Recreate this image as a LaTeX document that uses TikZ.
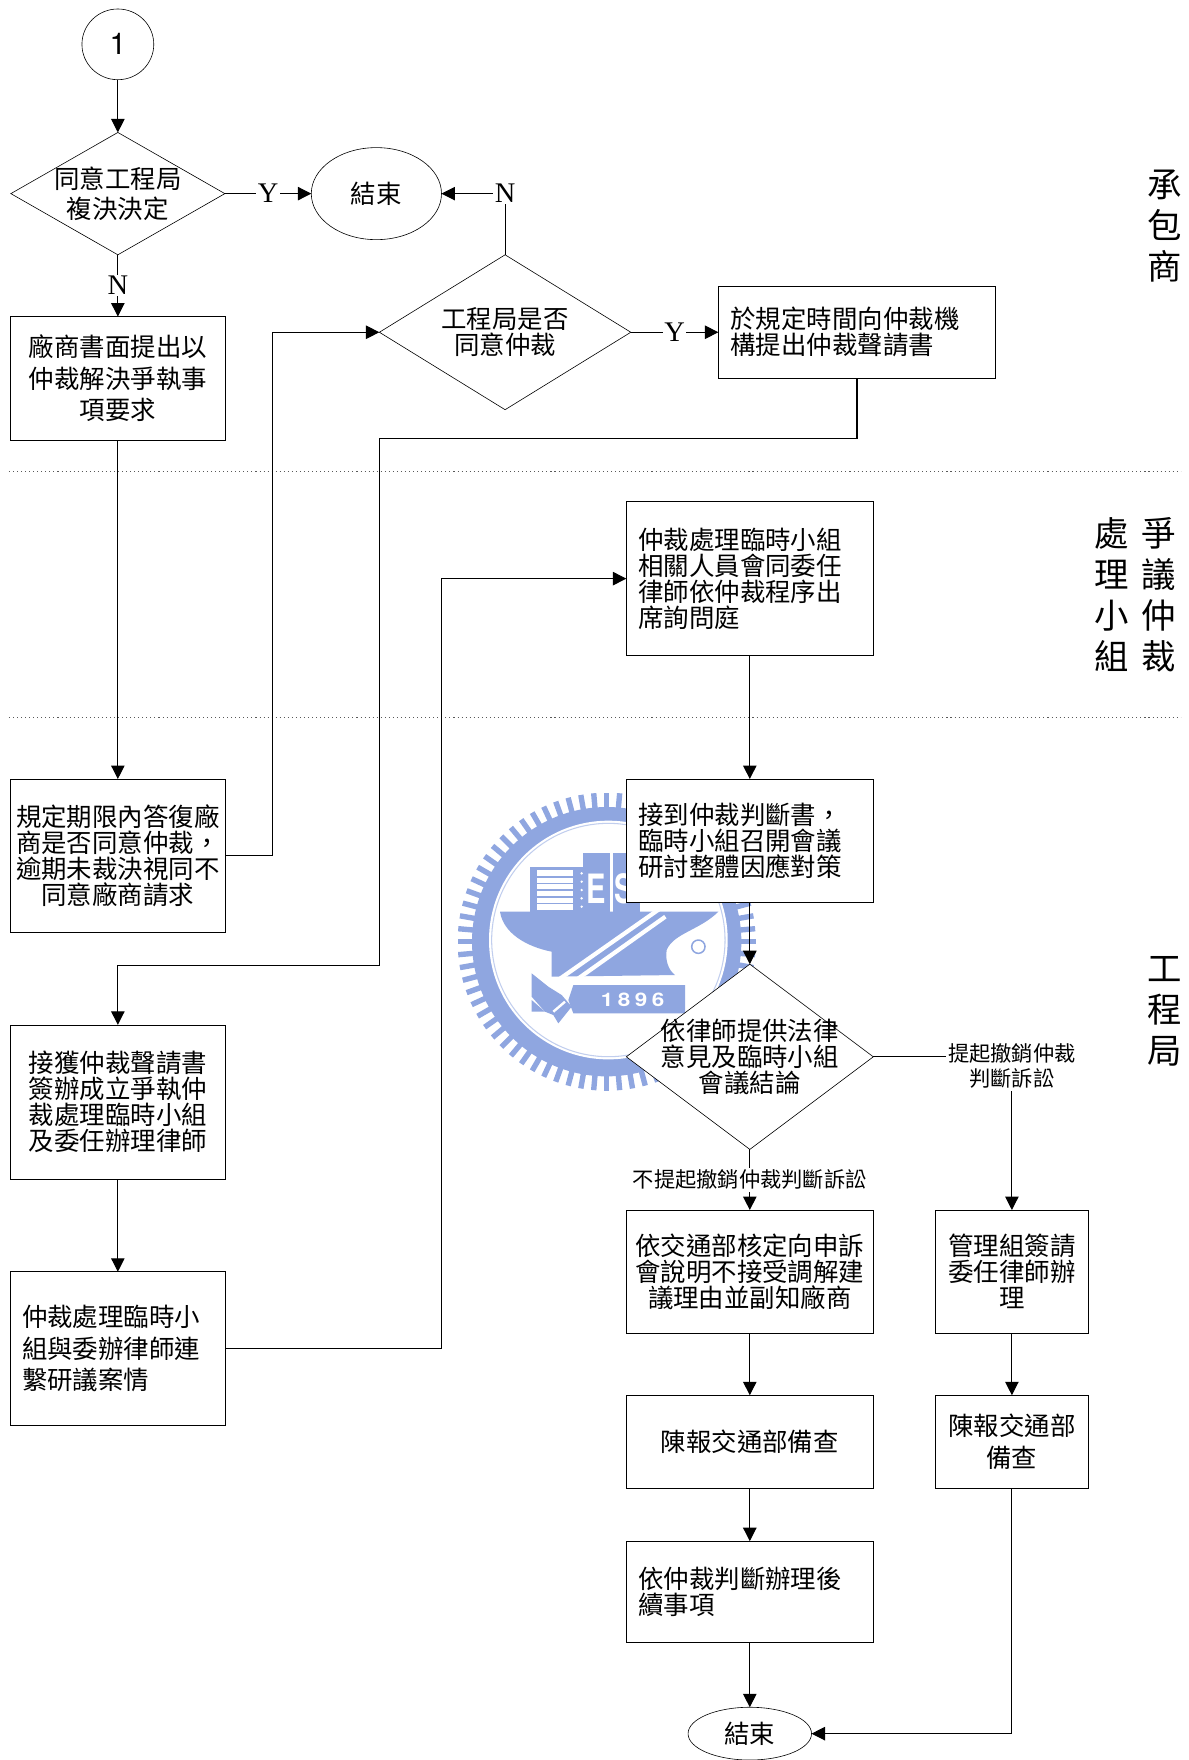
\documentclass[tikz,border=0pt]{standalone}
\usepackage{fontspec}
\setmainfont{Liberation Serif}
\newfontfamily\arialfont{TeX Gyre Heros}
\newfontfamily\cjk{Noto Sans CJK TC}
\usepackage{xcolor}
\usepackage{tikz}
\usetikzlibrary{arrows.meta,positioning,shapes.geometric}

\definecolor{logoblue}{HTML}{8FA6E0}
\newcommand{\bodycn}{\cjk\fontsize{17pt}{17.4pt}\selectfont}
\newcommand{\loosecn}{\cjk\fontsize{17pt}{21.2pt}\selectfont}
\newcommand{\notecn}{\cjk\fontsize{14.2pt}{17pt}\selectfont}
\newcommand{\sidecn}{\cjk\fontsize{23pt}{27.4pt}\selectfont}

\begin{document}
\begin{tikzpicture}[
  x=0.75pt, y=-0.75pt,
  box/.style={rectangle, draw, fill=white, minimum width=143.25pt, minimum height=82.5pt,
              inner sep=0pt, outer sep=0pt, align=center, font=\bodycn},
  boxl/.style={box, align=left, text width=#1, inner xsep=8pt},
  decision/.style={diamond, draw, fill=white, inner sep=-30pt, outer sep=0pt, aspect=1.6,
                   align=center, font=\bodycn},
  terminal/.style={ellipse, draw, fill=white, inner sep=0pt, outer sep=0pt, font=\bodycn},
  flow/.style={-{Triangle[length=9pt,width=9pt]}, line width=0.7pt},
  yesno/.style={fill=white, inner sep=1pt, font=\fontsize{19pt}{20pt}\selectfont},
  branch/.style={fill=white, inner sep=1.5pt, align=center, font=\notecn},
  side/.style={align=center, inner sep=0pt, font=\sidecn},
  zone/.style={dotted, line width=0.7pt, black!65},
  logotext/.style={white, inner sep=0pt, font=\arialfont\bfseries\fontsize{27pt}{27pt}\selectfont, xscale=0.72},
]
  \useasboundingbox (0,0) rectangle (1059,1568);

  % Watermark
  \begin{scope}[shift={(392,686)}, scale=0.297]
    \begin{scope}[shift={(500,515)}]
      \foreach \a in {0,5,...,355}
        \draw[logoblue, line width=3.6pt] (\a:395) -- (\a:447);
      \fill[logoblue] (0,0) circle (404);
    \end{scope}
    \fill[white] (505,510) circle (358);
    \draw[logoblue!55, line width=0.7pt] (505,510) circle (350);
    \fill[logoblue] (180,425) -- (835,425) .. controls (780,480) and (700,490) .. (680,540)
      .. controls (675,570) and (685,600) .. (705,615) -- (335,620) -- (335,545)
      .. controls (260,530) and (190,490) .. (180,425) -- cycle;
    \fill[logoblue] (430,250) rectangle (510,430);
    \fill[logoblue] (520,250) rectangle (600,430);
    \fill[logoblue] (270,290) rectangle (430,430);
    \fill[white] (292,300) rectangle (398,420);
    \foreach \y in {320,340,360,380,400}
      \draw[logoblue, line width=1.1pt] (292,\y) -- (398,\y);
    \foreach \y in {310,335,360,385,410}
      \fill[white] (425,\y) circle (4);
    \node[logotext] (logoe) at (470,355) {E};
    \node[logotext] (logos) at (552,355) {S};
    \draw[white, line width=2.8pt] (340,640) -- (661,415);
    \draw[white, line width=2.8pt] (380,650) -- (676,440);
    \fill[logoblue] (275,610) -- (325,650) -- (365,675) -- (395,710) -- (355,760) -- (340,735)
      -- (315,725) -- (275,680) -- cycle;
    \fill[logoblue] (275,690) -- (315,725) -- (275,725) -- cycle;
    \draw[white, line width=1.6pt] (340,725) -- (375,695);
    \fill[logoblue] (400,645) -- (735,645) -- (735,730) -- (400,730) -- (385,690) -- cycle;
    \node[white, inner sep=0pt, font=\arialfont\bfseries\fontsize{12.5pt}{13pt}\selectfont, xscale=1.2] (logoyear) at (578,688) {1\hspace{2.5pt}8\hspace{2.5pt}9\hspace{2.5pt}6};
    \draw[logoblue, line width=1pt] (775,530) circle (20);
  \end{scope}

  % Left column
  \node[terminal, minimum width=48pt, minimum height=47.25pt, font=\arialfont\fontsize{20pt}{21pt}\selectfont] (start) at (105,39.5) {1};
  \node[decision, minimum width=143pt, minimum height=81.75pt, below=35.25pt of start] (review) {同意工程局\\[3pt]複決決定};
  \node[box, below=41.25pt of review, font=\loosecn] (demand) {廠商書面提出以\\仲裁解決爭執事\\項要求};
  \node[box, minimum height=102.75pt, below=226.5pt of demand] (reply) {規定期限內答復廠\\商是否同意仲裁，\\逾期未裁決視同不\\同意廠商請求};
  \node[box, minimum height=103.5pt, below=61.5pt of reply] (receive) {接獲仲裁聲請書\\簽辦成立爭執仲\\裁處理臨時小組\\及委任辦理律師};
  \node[boxl=128pt, minimum height=102.75pt, below=61.5pt of receive, font=\loosecn] (contact) {仲裁處理臨時小\\組與委辦律師連\\繫研議案情};

  % Upper branch
  \node[terminal, minimum width=87pt, minimum height=61.5pt, right=57.75pt of review] (finisha) {結束};
  \node[decision, minimum width=168pt, minimum height=103.5pt] (agree) at (450,296) {工程局是否\\同意仲裁};
  \node[boxl=169pt, minimum width=185.25pt, minimum height=61.5pt, right=58.5pt of agree] (filing) {於規定時間向仲裁機\\構提出仲裁聲請書};

  % Middle column
  \node[boxl=149pt, minimum width=165pt, minimum height=102.75pt] (hearing) at (668,515.5) {仲裁處理臨時小組\\相關人員會同委任\\律師依仲裁程序出\\席詢問庭};
  \node[boxl=149pt, minimum width=165pt, below=82.5pt of hearing] (award) {接到仲裁判斷書，\\臨時小組召開會議\\研討整體因應對策};
  \node[decision, minimum width=165pt, minimum height=123.75pt, below=41.25pt of award] (opinion) {依律師提供法律\\意見及臨時小組\\會議結論};
  \node[box, minimum width=165pt, below=40.5pt of opinion] (notify) {依交通部核定向申訴\\會說明不接受調解建\\議理由並副知廠商};
  \node[box, minimum width=165pt, minimum height=62.25pt, below=41.25pt of notify] (report) {陳報交通部備查};
  \node[boxl=149pt, minimum width=165pt, minimum height=67.5pt, below=35.25pt of report] (followup) {依仲裁判斷辦理後\\續事項};
  \node[terminal, minimum width=82.5pt, minimum height=35.25pt, below=43.5pt of followup] (finishb) {結束};

  % Right column
  \node[box, minimum width=102.75pt, right=41.25pt of notify] (appoint) {管理組簽請\\委任律師辦\\理};
  \node[box, minimum width=102.75pt, minimum height=62.25pt, below=41.25pt of appoint, font=\loosecn] (reporttwo) {陳報交通部\\備查};

  % Swimlanes
  \foreach \y in {420,639}
    \draw[zone] (8,\y) -- (1052,\y);
  \node[side] (lanea) at (1038,201) {承\\包\\商};
  \node[side] (laneb) at (1032,530) {爭\\議\\仲\\裁};
  \node[side] (lanec) at (990,530) {處\\理\\小\\組};
  \node[side] (laned) at (1038,901) {工\\程\\局};

  % Connections
  \coordinate (benda) at (338,391);
  \coordinate (bendb) at (338,860);
  \draw[flow] (start) -- (review);
  \draw[flow] (review) -- node[yesno] {Y} (finisha);
  \draw[flow] (review) -- node[yesno] {N} (demand);
  \draw[flow] (demand) -- (reply);
  \draw[flow] (reply.east) -- ++(42,0) |- (agree.west);
  \draw[flow] (agree.north) |- node[yesno] {N} (finisha.east);
  \draw[flow] (agree) -- node[yesno] {Y} (filing);
  \draw[flow] (filing.south) |- (benda) -- (bendb) -| (receive.north);
  \draw[flow] (receive) -- (contact);
  \draw[flow] (contact.east) -- ++(192,0) |- (hearing.west);
  \draw[flow] (hearing) -- (award);
  \draw[flow] (award) -- (opinion);
  \draw[flow] (opinion) -- node[branch] {不提起撤銷仲裁判斷訴訟} (notify);
  \draw[flow] (opinion.east) -| node[branch, yshift=-6pt] {提起撤銷仲裁\\判斷訴訟} (appoint.north);
  \draw[flow] (notify) -- (report);
  \draw[flow] (report) -- (followup);
  \draw[flow] (followup) -- (finishb);
  \draw[flow] (appoint) -- (reporttwo);
  \draw[flow] (reporttwo.south) |- (finishb.east);
\end{tikzpicture}
\end{document}
